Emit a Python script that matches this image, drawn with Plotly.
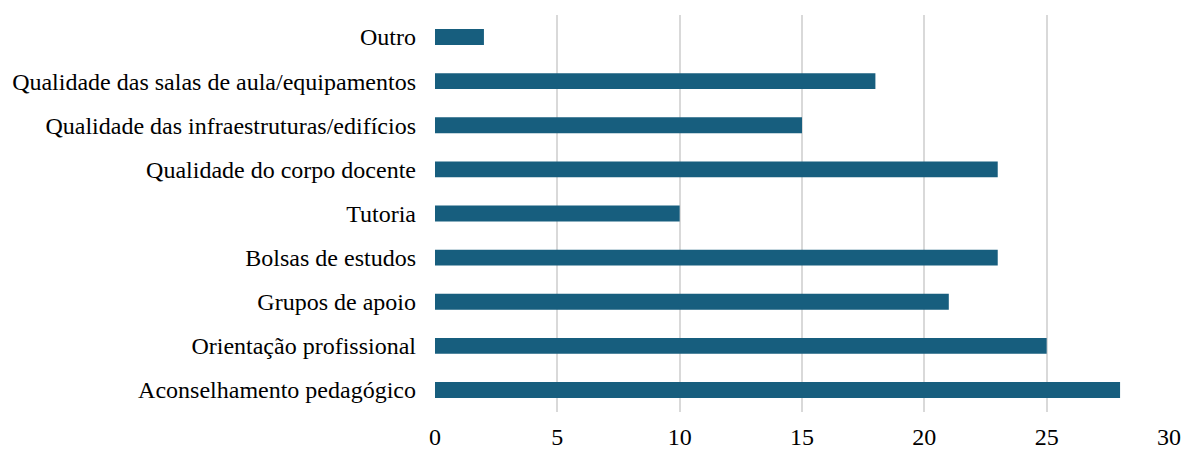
import plotly.graph_objects as go

categories = [
    "Outro",
    "Qualidade das salas de aula/equipamentos",
    "Qualidade das infraestruturas/edifícios",
    "Qualidade do corpo docente",
    "Tutoria",
    "Bolsas de estudos",
    "Grupos de apoio",
    "Orientação profissional",
    "Aconselhamento pedagógico",
]
values = [2, 18, 15, 23, 10, 23, 21, 25, 28]
x_ticks = [0, 5, 10, 15, 20, 25, 30]

fig = go.Figure(go.Bar(
    y=categories,
    x=values,
    orientation="h",
    marker=dict(color="#175e7e", line=dict(width=0)),
    width=0.36,
))

fig.update_layout(
    width=1184, height=449,
    margin=dict(l=435, r=15, t=15, b=37),
    plot_bgcolor="white", paper_bgcolor="white",
    font=dict(family="Liberation Serif", size=24, color="black"),
    showlegend=False,
)
fig.update_xaxes(
    range=[0, 30], tickvals=x_ticks, showgrid=True, gridcolor="#d9d9d9", gridwidth=2,
    zeroline=False, showline=False, ticks="", ticklabelstandoff=8, automargin=False,
)
fig.update_yaxes(
    categoryorder="array", categoryarray=categories[::-1], range=[-0.5, 8.5],
    showgrid=False, zeroline=False, showline=False, ticks="", ticklabelstandoff=18,
    automargin=False,
)

fig.write_html(
    "out.html",
    config={"displayModeBar": False},
    post_script="document.body.style.margin='0';document.body.style.overflow='hidden';",
)
